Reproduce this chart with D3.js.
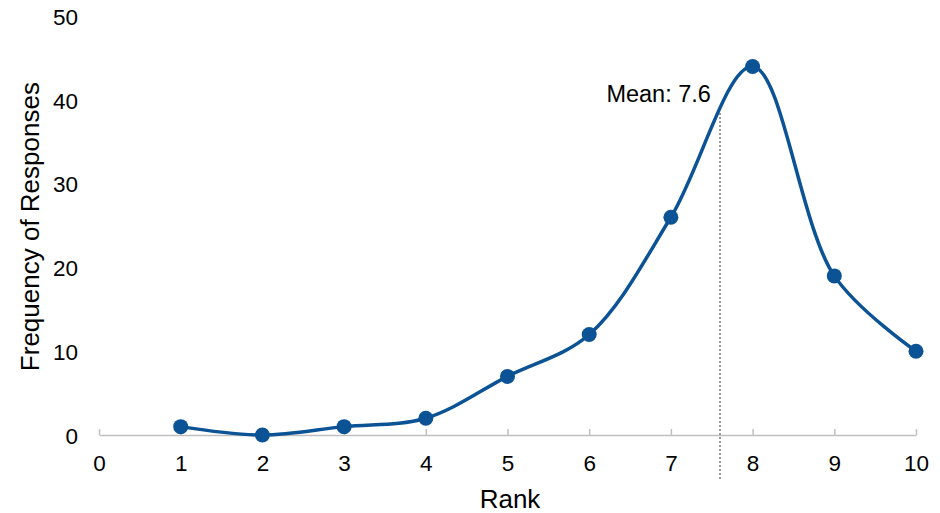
<!DOCTYPE html>
<html>
<head>
<meta charset="utf-8">
<script src="https://cdn.jsdelivr.net/npm/d3@7"></script>
<style>
  html, body { margin: 0; padding: 0; background: #ffffff; }
  svg { display: block; }
  text { font-family: "Liberation Sans", Arial, sans-serif; fill: #000; }
</style>
</head>
<body>
<svg id="chart" width="940" height="513"></svg>
<script>
// Survey responses by rank
const ranks = [1, 2, 3, 4, 5, 6, 7, 8, 9, 10];
const frequencies = [1, 0, 1, 2, 7, 12, 26, 44, 19, 10];
const xTicks = [0, 1, 2, 3, 4, 5, 6, 7, 8, 9, 10];
const yTicks = [0, 10, 20, 30, 40, 50];
const meanRank = 7.6;
const meanLabel = "Mean: 7.6";

const svg = d3.select("#chart");
const lineColor = "#0b5394";
const axisColor = "#bfbfbf";

const x = d3.scaleLinear().domain([0, 10]).range([99, 916]);
const y = d3.scaleLinear().domain([0, 50]).range([435, 16.25]);

// X axis: grey baseline with short upward ticks
const xAxis = svg.append("g")
  .attr("transform", `translate(0,${y(0)})`)
  .call(d3.axisBottom(x).tickValues(xTicks).tickFormat(d3.format("d"))
    .tickSizeInner(-6).tickSizeOuter(0).tickPadding(0));
xAxis.select(".domain").attr("stroke", axisColor).attr("stroke-width", 1.5);
xAxis.selectAll(".tick line").attr("stroke", axisColor).attr("stroke-width", 1.5);
xAxis.selectAll(".tick text")
  .attr("y", 36)
  .attr("dy", null)
  .style("font-size", "22.5px")
  .style("font-family", "'Liberation Sans', Arial, sans-serif")
  .attr("fill", "#000");

// Y axis: labels only
const yAxis = svg.append("g")
  .attr("transform", `translate(78,0)`)
  .call(d3.axisLeft(y).tickValues(yTicks).tickSize(0).tickPadding(0));
yAxis.select(".domain").remove();
yAxis.selectAll(".tick text")
  .attr("dy", "0.36em")
  .style("font-size", "22.5px")
  .style("font-family", "'Liberation Sans', Arial, sans-serif")
  .attr("fill", "#000");

// Axis titles
svg.append("text")
  .attr("x", 510).attr("y", 508)
  .attr("text-anchor", "middle")
  .style("font-size", "26px")
  .text("Rank");

svg.append("text")
  .attr("transform", `translate(39,${(y(0) + y(50)) / 2 + 1}) rotate(-90)`)
  .attr("text-anchor", "middle")
  .style("font-size", "26px")
  .text("Frequency of Responses");

// Mean marker
svg.append("line")
  .attr("x1", Math.round(x(meanRank))).attr("x2", Math.round(x(meanRank)))
  .attr("y1", 113).attr("y2", 480)
  .attr("stroke", "#9a9a9a")
  .attr("stroke-width", 2)
  .attr("stroke-dasharray", "2,2");

svg.append("text")
  .attr("x", x(meanRank) - 9).attr("y", 102)
  .attr("text-anchor", "end")
  .style("font-size", "23.5px")
  .text(meanLabel);

// Smoothed frequency curve
const pts = ranks.map((r, i) => [r, frequencies[i]]);
const line = d3.line()
  .x(d => x(d[0]))
  .y(d => y(d[1]))
  .curve(d3.curveCatmullRom.alpha(0.5));

svg.append("path")
  .datum(pts)
  .attr("fill", "none")
  .attr("stroke", lineColor)
  .attr("stroke-width", 3.5)
  .attr("stroke-linejoin", "round")
  .attr("d", line);

svg.selectAll("circle.pt")
  .data(pts)
  .join("circle")
  .attr("class", "pt")
  .attr("cx", d => x(d[0]))
  .attr("cy", d => y(d[1]))
  .attr("r", 7.5)
  .attr("fill", lineColor);
</script>
</body>
</html>
